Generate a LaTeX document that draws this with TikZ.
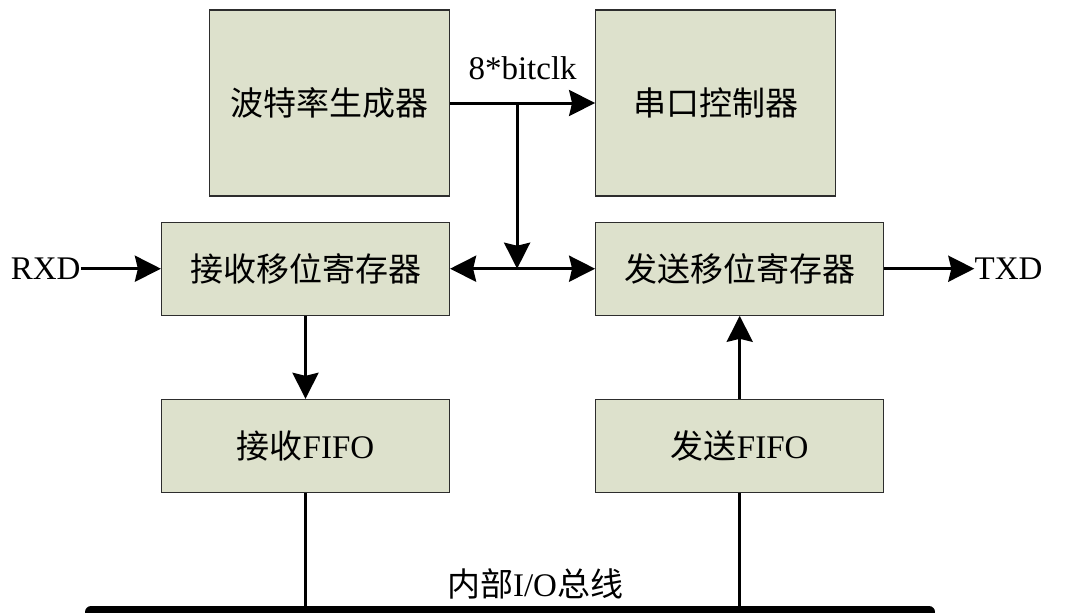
\documentclass[tikz,border=0pt]{standalone}
\usepackage{fontspec}
\setmainfont{Liberation Serif}
\newfontfamily\cjk{Noto Sans CJK SC}
\usepackage{tikz}
\usetikzlibrary{arrows.meta,positioning}
\definecolor{boxgreen}{RGB}{221,225,204}
\definecolor{boxline}{RGB}{45,45,45}

\begin{document}
\begin{tikzpicture}
    [x=0.5pt, y=-0.5pt,
    font=\fontsize{16.5pt}{19pt}\selectfont,
    >={Stealth[length=13pt,width=13pt,inset=1.5pt]},
    block/.style={rectangle, draw=boxline, line width=.6pt, fill=boxgreen, text centered, inner sep=0pt},
    bigblock/.style={block, minimum width=120pt, minimum height=93pt},
    regblock/.style={block, minimum width=144pt, minimum height=46.5pt},
    sig/.style={line width=1.5pt, ->},
    wire/.style={line width=1.5pt},
    bus/.style={line width=6pt, line cap=round}]
    \useasboundingbox (0,0) rectangle (1071,612);

    \node (baud) [bigblock] at (329.5,103) {\cjk 波特率生成器};
    \node (ctrl) [bigblock, right=72.5pt of baud] {\cjk 串口控制器};
    \draw[sig] (baud) -- node[above=11pt, inner sep=0pt] {8*bitclk} (ctrl);

    \node (rxsr) [regblock, below left=12.5pt and 0pt of baud.south east] {\cjk 接收移位寄存器};
    \node (txsr) [regblock, below right=12.5pt and 0pt of ctrl.south west] {\cjk 发送移位寄存器};
    \coordinate [right=33.5pt of baud.east] (tap);
    \draw[sig] (tap) -- (tap |- rxsr.east);
    \draw[sig, <->] (rxsr) -- (txsr);

    \node (rxd) [inner sep=0pt, left=40pt of rxsr] {RXD};
    \node (txd) [inner sep=0pt, right=45pt of txsr] {TXD};
    \draw[sig] (rxd) -- (rxsr);
    \draw[sig] (txsr) -- (txd);

    \node (rxfifo) [regblock, below=41.5pt of rxsr] {{\cjk 接收}FIFO};
    \node (txfifo) [regblock, below=41.5pt of txsr] {{\cjk 发送}FIFO};
    \draw[sig] (rxsr) -- (rxfifo);
    \draw[sig] (txfifo) -- (txsr);

    % internal bus
    \coordinate (busL) at (91,612);
    \coordinate (busR) at (929,612);
    \draw[bus] (busL) -- (busR);
    \node (buslabel) at (535,584) {{\cjk 内部}I/O{\cjk 总线}};
    \draw[wire] (rxfifo) -- (rxfifo |- busL);
    \draw[wire] (txfifo) -- (txfifo |- busL);

  \end{tikzpicture}
\end{document}
